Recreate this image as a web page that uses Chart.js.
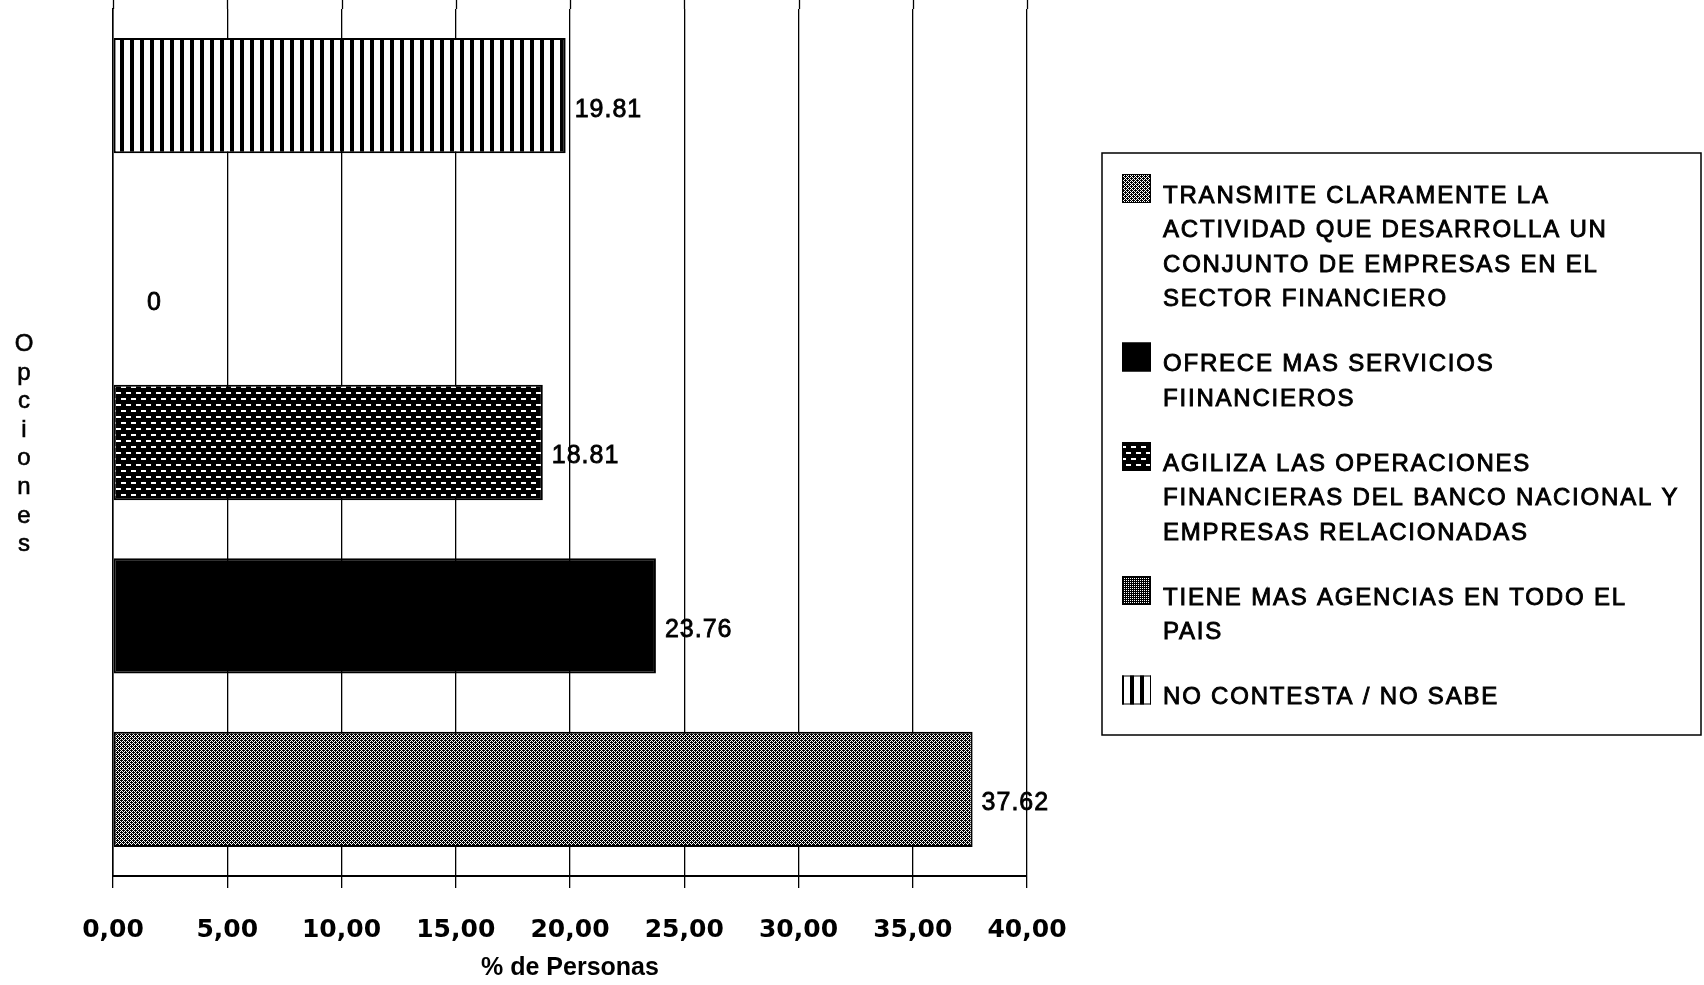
<!DOCTYPE html>
<html>
<head>
<meta charset="utf-8">
<script src="https://cdn.jsdelivr.net/npm/chart.js@4.4.1/dist/chart.umd.min.js"></script>
<style>
  html, body { margin: 0; padding: 0; background: #fff; }
  canvas { display: block; }
</style>
</head>
<body>
<canvas id="chart" width="1704" height="985"></canvas>
<script>
// categories (bottom to top), each split into its legend lines
const categories = [
  ["TRANSMITE CLARAMENTE LA", "ACTIVIDAD QUE DESARROLLA UN", "CONJUNTO DE EMPRESAS EN EL", "SECTOR FINANCIERO"],
  ["OFRECE MAS SERVICIOS", "FIINANCIEROS"],
  ["AGILIZA LAS OPERACIONES", "FINANCIERAS DEL BANCO NACIONAL Y", "EMPRESAS RELACIONADAS"],
  ["TIENE MAS AGENCIAS EN TODO EL", "PAIS"],
  ["NO CONTESTA / NO SABE"]
];
const values = [37.62, 23.76, 18.81, 0, 19.81];
const xTickValues = [0, 5, 10, 15, 20, 25, 30, 35, 40];
const xTitle = "% de Personas";
const yTitle = "Opciones";

// --- hatch fills, one per category ---
function makePattern(w, h, draw) {
  const c = document.createElement("canvas");
  c.width = w; c.height = h;
  const g = c.getContext("2d");
  g.fillStyle = "#fff";
  g.fillRect(0, 0, w, h);
  g.fillStyle = "#000";
  draw(g);
  return c.getContext("2d").createPattern(c, "repeat");
}

const fills = [
  // fine crosshatch, reads as dark grey
  makePattern(4, 4, g => {
    for (let x = 0; x < 4; x++)
      for (let y = 0; y < 4; y++)
        if ((x + y) % 2 === 0) g.fillRect(x, y, 1, 1);
    g.fillRect(1, 0, 1, 1);
    g.fillRect(3, 2, 1, 1);
  }),
  // solid black
  "#000",
  // black with staggered white dashes
  makePattern(10, 12, g => {
    g.fillRect(0, 0, 10, 12);
    g.fillStyle = "#fff";
    g.fillRect(1, 2, 5, 2);
    g.fillRect(6, 8, 4, 2);
    g.fillRect(0, 8, 1, 2);
  }),
  // dark with white dots
  makePattern(2, 2, g => {
    g.fillRect(0, 0, 2, 2);
    g.fillStyle = "#fff";
    g.fillRect(0, 0, 1, 1);
  }),
  // vertical stripes
  makePattern(10, 1, g => g.fillRect(0, 0, 4, 1))
];

const fmtValue = v => (v === 0 ? "0" : v.toFixed(2));

// gridlines run up to the top edge in the original
const gridToTop = {
  id: "gridToTop",
  beforeDatasetsDraw(chart) {
    const c = chart.ctx;
    const xs = chart.scales.x;
    c.save();
    c.strokeStyle = "#000";
    c.lineWidth = 1.3;
    xs.ticks.forEach(t => {
      const px = Math.round(xs.getPixelForValue(t.value)) + 0.5;
      c.beginPath();
      c.moveTo(px, 0);
      c.lineTo(px, chart.chartArea.top);
      c.stroke();
    });
    c.restore();
  }
};

const valueLabels = {
  id: "valueLabels",
  afterDatasetsDraw(chart) {
    const c = chart.ctx;
    const meta = chart.getDatasetMeta(0);
    c.save();
    c.font = '25px "Liberation Sans", Arial, sans-serif';
    c.letterSpacing = "1px";
    c.fillStyle = "#000";
    c.strokeStyle = "#000";
    c.lineWidth = 0.8;
    c.textAlign = "left";
    c.textBaseline = "middle";
    meta.data.forEach((bar, i) => {
      const v = values[i];
      // excel drops the label of an empty bar off to the side
      const dx = v === 0 ? 34 : 9;
      const dy = v === 0 ? 34 : 14;
      c.fillText(fmtValue(v), bar.x + dx, bar.y + dy);
      c.strokeText(fmtValue(v), bar.x + dx, bar.y + dy);
    });
    c.restore();
  }
};

const boxLegend = {
  id: "boxLegend",
  afterDraw(chart) {
    const c = chart.ctx;
    c.save();
    c.strokeStyle = "#000";
    c.lineWidth = 1.5;
    c.strokeRect(1102, 153, 599, 582);

    c.font = '24px "Liberation Sans", Arial, sans-serif';
    c.letterSpacing = "1.8px";
    c.textAlign = "left";
    c.textBaseline = "middle";
    let y = 195;
    categories.forEach((lines, i) => {
      c.fillStyle = fills[i];
      c.fillRect(1122, y - 21, 29, 29);
      c.lineWidth = 1;
      c.strokeRect(1122.5, y - 20.5, 28, 28);
      c.fillStyle = "#000";
      c.lineWidth = 0.9;
      lines.forEach((line, k) => {
        c.fillText(line, 1163, y + 1 + k * 34.5);
        c.strokeText(line, 1163, y + 1 + k * 34.5);
      });
      y += (lines.length - 1) * 34.5 + 65;
    });
    c.restore();
  }
};

const stackedYTitle = {
  id: "stackedYTitle",
  afterDraw(chart) {
    const c = chart.ctx;
    c.save();
    c.font = '24px "Liberation Sans", Arial, sans-serif';
    c.fillStyle = "#000";
    c.strokeStyle = "#000";
    c.lineWidth = 0.6;
    c.textAlign = "center";
    c.textBaseline = "alphabetic";
    yTitle.split("").forEach((ch, k) => {
      c.fillText(ch, 24, 351 + k * 28.6);
      c.strokeText(ch, 24, 351 + k * 28.6);
    });
    c.restore();
  }
};

new Chart(document.getElementById("chart"), {
  type: "bar",
  data: {
    labels: categories,
    datasets: [{
      data: values,
      backgroundColor: fills,
      borderColor: "#000",
      borderWidth: 2,
      borderSkipped: false,
      barPercentage: 0.665,
      categoryPercentage: 1
    }]
  },
  options: {
    indexAxis: "y",
    responsive: false,
    animation: false,
    layout: { padding: { left: 113, right: 677, top: 9, bottom: 2 } },
    plugins: {
      legend: { display: false },
      tooltip: { enabled: false }
    },
    scales: {
      x: {
        min: 0,
        max: 40,
        afterBuildTicks: scale => { scale.ticks = xTickValues.map(v => ({ value: v })); },
        grid: { color: "#000", lineWidth: 1.3, tickLength: 12, drawTicks: true },
        border: { color: "#000", width: 2 },
        ticks: {
          color: "#000",
          padding: 27,
          maxRotation: 0,
          autoSkip: false,
          font: { family: "DejaVu Sans", size: 25, weight: "bold" },
          callback: v => Number(v).toFixed(2).replace(".", ",")
        },
        title: {
          display: true,
          text: xTitle,
          color: "#000",
          // tick padding is counted twice in the axis height, pull the title back up
          padding: { top: -19, bottom: 0 },
          font: { family: "Liberation Sans", size: 25, weight: "bold" }
        }
      },
      y: {
        reverse: true,
        grid: { display: false, drawTicks: false },
        border: { display: true, color: "#000", width: 1.5 },
        ticks: { display: false }
      }
    }
  },
  plugins: [gridToTop, valueLabels, boxLegend, stackedYTitle]
});
</script>
</body>
</html>
